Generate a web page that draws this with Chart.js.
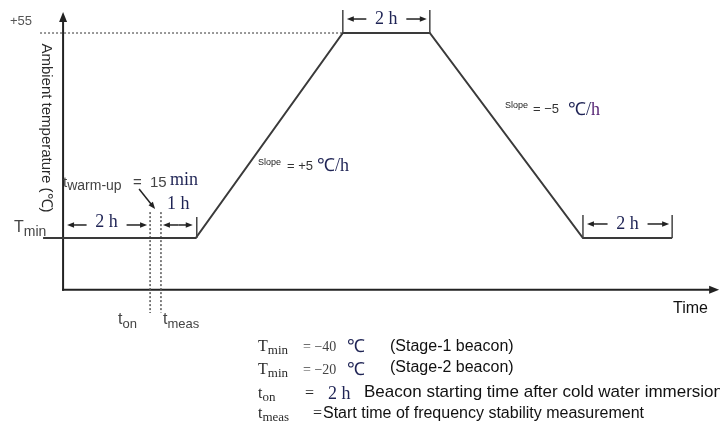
<!DOCTYPE html>
<html>
<head>
<meta charset="utf-8">
<script src="https://cdn.jsdelivr.net/npm/chart.js@4.4.1/dist/chart.umd.min.js"></script>
<style>
    html, body { margin: 0; padding: 0; background: #fff; }
</style>
</head>
<body>
<canvas id="grafica" width="720" height="427"></canvas>
<script>
// temperature profile (schematic hours, deg C)
const profileTime = [-0.46, 3.05, 6.43, 8.43, 11.95, 14.0];
const profileTemp = [-40, -40, 55, 55, -40, -40];
const tOn = 2.0;        // beacon switched on
const tMeas = 2.25;     // start of measurement (t_on + 15 min)
const tMax = 55;
const tMin = -40;
const axisTemp = -64;   // where the time axis sits
const axisTop = 64.7;
const timeEnd = 15.08;
const yLabels = ['+55', 'T', 'min'];

const SANS = "'Liberation Sans', Arial, sans-serif";
const SERIF = "'Liberation Serif', 'Times New Roman', serif";
const INK = '#2b2b2b';
const NAVY = '#1f2455';

function arrow(ctx, x1, y1, x2, y2, size) {
    const a = Math.atan2(y2 - y1, x2 - x1);
    const c = Math.cos(a), s = Math.sin(a);
    ctx.beginPath();
    ctx.moveTo(x1, y1);
    ctx.lineTo(x2 - c * size * 0.7, y2 - s * size * 0.7);
    ctx.stroke();
    ctx.beginPath();
    ctx.moveTo(x2, y2);
    ctx.lineTo(x2 - size * c + size * 0.4 * s, y2 - size * s - size * 0.4 * c);
    ctx.lineTo(x2 - size * c - size * 0.4 * s, y2 - size * s + size * 0.4 * c);
    ctx.closePath();
    ctx.fill();
}

// draws pieces of text one after another, returns the end x
function textRun(ctx, x, y, parts) {
    parts.forEach(p => {
        if (p.x !== undefined) x = p.x;
        ctx.font = p.font;
        ctx.fillStyle = p.color || INK;
        ctx.fillText(p.text, x, y + (p.dy || 0));
        x += ctx.measureText(p.text).width;
    });
    return x;
}

function dimension(ctx, xa, xb, yArrow, yText, label) {
    const mid = (xa + xb) / 2;
    ctx.strokeStyle = '#222';
    ctx.fillStyle = '#222';
    ctx.lineWidth = 1.5;
    arrow(ctx, mid - 20, yArrow, xa + 4, yArrow, 7);
    arrow(ctx, mid + 20, yArrow, xb - 3, yArrow, 7);
    ctx.font = '18px ' + SERIF;
    ctx.fillStyle = NAVY;
    ctx.textAlign = 'center';
    ctx.fillText(label, mid, yText);
    ctx.textAlign = 'left';
}

function tick(ctx, x, yBottom, height) {
    ctx.strokeStyle = '#444';
    ctx.lineWidth = 1.5;
    ctx.beginPath();
    ctx.moveTo(x, yBottom);
    ctx.lineTo(x, yBottom - height);
    ctx.stroke();
}

const axesPlugin = {
    id: 'axesPlugin',
    beforeDatasetsDraw(chart) {
        const ctx = chart.ctx;
        const px = v => chart.scales.x.getPixelForValue(v);
        const py = v => chart.scales.y.getPixelForValue(v);
        ctx.save();
        ctx.strokeStyle = '#222';
        ctx.fillStyle = '#222';
        ctx.lineWidth = 2;
        arrow(ctx, px(0) - 1, py(axisTemp), px(timeEnd), py(axisTemp), 10);
        arrow(ctx, px(0), py(axisTemp) + 1, px(0), py(axisTop), 10);
        ctx.restore();
    }
};

const notesPlugin = {
    id: 'notesPlugin',
    afterDraw(chart) {
        const ctx = chart.ctx;
        const px = v => chart.scales.x.getPixelForValue(v);
        const py = v => chart.scales.y.getPixelForValue(v);
        const yHi = py(tMax), yLo = py(tMin);
        ctx.save();
        ctx.textBaseline = 'middle';

        // y axis labels
        textRun(ctx, 10, yHi - 12, [{ text: yLabels[0], font: '13px ' + SANS, color: '#555' }]);
        textRun(ctx, 14, yLo - 10, [
            { text: yLabels[1], font: '16px ' + SANS, color: '#444' },
            { text: yLabels[2], font: '14px ' + SANS, color: '#444', dy: 4 }
        ]);
        ctx.save();
        ctx.translate(46, 128);
        ctx.rotate(Math.PI / 2);
        ctx.textAlign = 'center';
        ctx.font = '15px ' + SANS;
        ctx.fillStyle = INK;
        ctx.fillText('Ambient temperature (℃)', 0, 0);
        ctx.restore();

        // brackets
        tick(ctx, px(profileTime[2]), yHi, 23);
        tick(ctx, px(profileTime[3]), yHi, 23);
        dimension(ctx, px(profileTime[2]), px(profileTime[3]), yHi - 14, yHi - 14, '2 h');
        tick(ctx, px(profileTime[4]), yLo, 23);
        tick(ctx, px(profileTime[5]), yLo, 23);
        dimension(ctx, px(profileTime[4]), px(profileTime[5]), yLo - 14, yLo - 14, '2 h');
        dimension(ctx, px(0), px(tOn), yLo - 13, yLo - 16, '2 h');
        tick(ctx, px(profileTime[1]) + 1, yLo, 21);
        ctx.strokeStyle = '#222';
        ctx.fillStyle = '#222';
        ctx.lineWidth = 1.5;
        const xm = (px(tMeas) + px(profileTime[1])) / 2;
        arrow(ctx, xm, yLo - 13, px(tMeas) + 2, yLo - 13, 7);
        arrow(ctx, xm, yLo - 13, px(profileTime[1]) - 3, yLo - 13, 7);
        ctx.font = '18px ' + SERIF;
        ctx.fillStyle = NAVY;
        ctx.textAlign = 'center';
        ctx.fillText('1 h', xm, yLo - 34);
        ctx.textAlign = 'left';

        // warm-up note
        textRun(ctx, 63, yLo - 55, [
            { text: 't', font: '15px ' + SANS, color: '#444' },
            { text: 'warm-up', font: '14px ' + SANS, color: '#444', dy: 3 },
            { text: '=', font: '15px ' + SANS, color: '#444', x: 133 },
            { text: '15', font: '15px ' + SANS, color: '#444', x: 150 },
            { text: 'min', font: '18px ' + SERIF, color: NAVY, x: 170, dy: -3 }
        ]);
        ctx.strokeStyle = '#222';
        ctx.fillStyle = '#222';
        ctx.lineWidth = 1.5;
        arrow(ctx, px(tOn) - 11, yLo - 49, px(tOn) + 5, yLo - 29, 7);

        // slopes
        textRun(ctx, 258, 163, [
            { text: 'Slope', font: '9px ' + SANS, color: '#222' },
            { text: '= +5', font: '13px ' + SANS, color: '#333', x: 287, dy: 3 },
            { text: '℃/h', font: '18px ' + SERIF, color: NAVY, x: 317, dy: 3 }
        ]);
        textRun(ctx, 505, 106, [
            { text: 'Slope', font: '9px ' + SANS, color: '#222' },
            { text: '= −5', font: '13px ' + SANS, color: '#333', x: 533, dy: 3 },
            { text: '℃/', font: '18px ' + SERIF, color: NAVY, x: 568, dy: 4 },
            { text: 'h', font: '18px ' + SERIF, color: '#5a2a78', dy: 4 }
        ]);

        // t_on / t_meas markers
        textRun(ctx, 118, 320, [
            { text: 't', font: '16px ' + SANS, color: '#444' },
            { text: 'on', font: '13px ' + SANS, color: '#444', dy: 4 }
        ]);
        textRun(ctx, 163, 320, [
            { text: 't', font: '16px ' + SANS, color: '#444' },
            { text: 'meas', font: '13px ' + SANS, color: '#444', dy: 4 }
        ]);
        textRun(ctx, 673, 309, [{ text: 'Time', font: '16px ' + SANS, color: '#111' }]);

        // notes under the chart
        const sub = '13px ' + SERIF;
        textRun(ctx, 258, 347, [
            { text: 'T', font: '16px ' + SERIF },
            { text: 'min', font: sub, dy: 4 },
            { text: '= −40', font: '14px ' + SERIF, color: '#444', x: 303 },
            { text: '℃', font: '18px ' + SERIF, color: NAVY, x: 347 },
            { text: '(Stage-1 beacon)', font: '16px ' + SANS, color: '#111', x: 390 }
        ]);
        textRun(ctx, 258, 370, [
            { text: 'T', font: '16px ' + SERIF },
            { text: 'min', font: sub, dy: 4 },
            { text: '= −20', font: '14px ' + SERIF, color: '#444', x: 303 },
            { text: '℃', font: '18px ' + SERIF, color: NAVY, x: 347 },
            { text: '(Stage-2 beacon)', font: '16px ' + SANS, color: '#111', x: 390, dy: -2 }
        ]);
        textRun(ctx, 258, 394, [
            { text: 't', font: '16px ' + SERIF },
            { text: 'on', font: sub, dy: 4 },
            { text: '=', font: '16px ' + SERIF, x: 305 },
            { text: '2 h', font: '18px ' + SERIF, color: NAVY, x: 328 },
            { text: 'Beacon starting time after cold water immersion', font: '17px ' + SANS, color: '#111', x: 364, dy: -2 }
        ]);
        textRun(ctx, 258, 414, [
            { text: 't', font: '16px ' + SERIF },
            { text: 'meas', font: sub, dy: 4 },
            { text: '=', font: '16px ' + SERIF, x: 313 },
            { text: 'Start time of frequency stability measurement', font: '16px ' + SANS, color: '#111', x: 323 }
        ]);
        ctx.restore();
    }
};

const profile = profileTime.map((t, i) => ({ x: t, y: profileTemp[i] }));
const ctx = document.getElementById('grafica').getContext('2d');

new Chart(ctx, {
    type: 'scatter',
    data: {
        datasets: [
            {
                label: 'Temperature profile',
                data: profile,
                showLine: true,
                borderColor: '#3a3a3a',
                borderWidth: 2,
                pointRadius: 0
            },
            {
                label: '+55 level',
                data: [{ x: -0.53, y: tMax }, { x: profileTime[2], y: tMax }],
                showLine: true,
                borderColor: '#777',
                borderWidth: 1.5,
                borderDash: [2, 2],
                pointRadius: 0
            },
            {
                label: 't on',
                data: [{ x: tOn, y: -28 }, { x: tOn, y: -74.8 }],
                showLine: true,
                borderColor: '#555',
                borderWidth: 1.5,
                borderDash: [2, 2],
                pointRadius: 0
            },
            {
                label: 't meas',
                data: [{ x: tMeas, y: -28 }, { x: tMeas, y: -74.5 }],
                showLine: true,
                borderColor: '#555',
                borderWidth: 1.5,
                borderDash: [2, 2],
                pointRadius: 0
            }
        ]
    },
    options: {
        responsive: false,
        animation: false,
        devicePixelRatio: 1,
        layout: { padding: 0 },
        plugins: {
            legend: { display: false },
            tooltip: { enabled: false }
        },
        scales: {
            x: { type: 'linear', display: false, min: -1.45, max: 15.1 },
            y: { type: 'linear', display: false, min: -127.6, max: 70.3 }
        }
    },
    plugins: [axesPlugin, notesPlugin]
});
</script>
</body>
</html>
